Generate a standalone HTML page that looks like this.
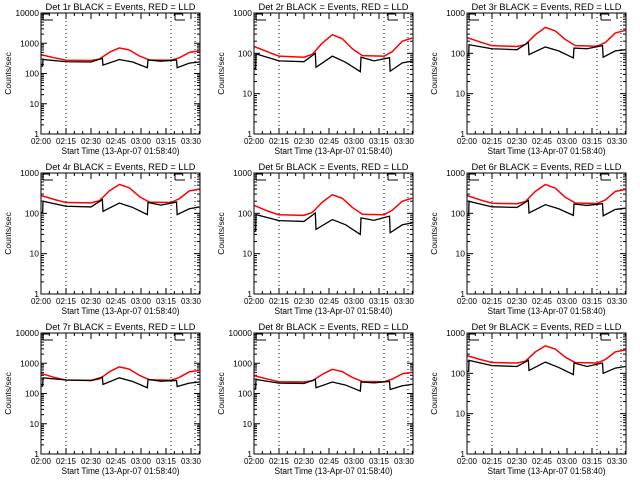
<!DOCTYPE html>
<html><head><meta charset="utf-8"><style>
html,body{margin:0;padding:0;background:#fff;}
svg{display:block;font-family:"Liberation Sans",sans-serif;}
</style></head><body>
<svg id="c" width="640" height="480"></svg>
<script>
const redTimes=[0,8,15,30,35,41,47,53,59,65,78,83,89,95];
const blackTimes=[0,1,1.2,15,30,36.8,37.2,47,55,63.8,64.2,72,81.3,81.7,89,95];
const detNames=["1r","2r","3r","4r","5r","6r","7r","8r","9r"];
const topDecade=[4,3,3,3,3,3,4,4,3];
const red1=[420,330,275,270,300,500,700,600,380,280,275,330,500,560];
const red2=[148,110,85,80,95,180,290,230,130,88,85,110,200,240];
const red3=[246,190,155,148,165,290,440,360,220,155,150,185,320,370];
const red4=[277,220,185,182,205,360,520,430,260,190,185,230,360,395];
const red5=[158,115,92,89,105,190,290,235,140,95,92,120,200,238];
const red6=[277,215,178,173,195,350,520,420,250,180,175,215,350,390];
const red7=[460,340,280,270,300,520,760,640,400,285,275,340,520,580];
const red8=[390,300,245,240,265,430,630,530,340,250,245,300,450,500];
const red9=[275,220,185,180,200,340,480,400,250,185,180,220,340,380];
const blk1=[175,175,290,245,240,320,190,290,240,155,280,255,280,155,220,240];
const blk2=[42,42,97,65,62,100,45,85,60,35,80,65,78,36,58,64];
const blk3=[88,88,163,130,123,187,93,144,115,77,135,130,155,80,115,123];
const blk4=[105,105,200,150,144,218,112,180,140,93,186,160,190,93,130,144];
const blk5=[36,36,93,66,63,102,40,70,52,30,77,67,85,33,52,58];
const blk6=[89,89,198,145,140,208,102,164,130,89,170,157,173,87,125,134];
const blk7=[175,175,330,280,270,350,200,330,250,155,290,255,270,170,220,240];
const blk8=[140,140,290,220,215,290,155,240,190,120,240,225,250,135,180,200];
const blk9=[112,112,210,155,148,210,118,190,140,93,180,148,180,100,135,148];
const xTickLabels=["02:00","02:15","02:30","02:45","03:00","03:15","03:30"];
const dottedTimes=[15,78,92.4];
const reds=[red1,red2,red3,red4,red5,red6,red7,red8,red9];
const blks=[blk1,blk2,blk3,blk4,blk5,blk6,blk7,blk8,blk9];

const NS="http://www.w3.org/2000/svg";
const svg=document.getElementById('c');
function mk(tag,attrs,parent){const e=document.createElementNS(NS,tag);for(const k in attrs)e.setAttribute(k,attrs[k]);(parent||svg).appendChild(e);return e;}

for(let p=0;p<9;p++){
  const col=p%3,row=Math.floor(p/3);
  const L=41+col*213,R=L+159,T=13+row*160,B=T+121;
  const td=topDecade[p];
  const xs=t=>L+t*159/95.4;
  const ys=v=>T+(td-Math.log10(v))*(B-T)/td;
  const g=mk('g',{});
  
  
  const title=mk('text',{x:(L+R)/2,y:T-3,'text-anchor':'middle','font-size':'9.5',textLength:'150',lengthAdjust:'spacingAndGlyphs'},g);
  title.textContent='Det '+detNames[p]+' BLACK = Events, RED = LLD';
  
  
  for(let d=0;d<=td;d++){
    const y=ys(Math.pow(10,d));
    mk('line',{x1:L,x2:L+6,y1:y,y2:y,stroke:'#000'},g);
    mk('line',{x1:R,x2:R-6,y1:y,y2:y,stroke:'#000'},g);
    const lb=mk('text',{x:L-2,y:y+3,'text-anchor':'end','font-size':'8.5'},g);
    lb.textContent=String(Math.pow(10,d));
    
    
    if(d<td){for(let m=2;m<10;m++){const ym=ys(m*Math.pow(10,d));
      mk('line',{x1:L,x2:L+3,y1:ym,y2:ym,stroke:'#000'},g);
      mk('line',{x1:R,x2:R-3,y1:ym,y2:ym,stroke:'#000'},g);}}
  }
  for(let m=0;m<=95;m+=5){
    const x=xs(m),len=(m%15===0)?6:3;
    mk('line',{x1:x,x2:x,y1:B,y2:B-len,stroke:'#000'},g);
    mk('line',{x1:x,x2:x,y1:T,y2:T+len,stroke:'#000'},g);
  }
  xTickLabels.forEach((s,i)=>{
    const lb=mk('text',{x:xs(i*15),y:B+10,'text-anchor':'middle','font-size':'8.5',textLength:'20',lengthAdjust:'spacingAndGlyphs'},g);
    lb.textContent=s;
    
    
  });
  const xt=mk('text',{x:(L+R)/2,y:B+20,'text-anchor':'middle','font-size':'9',textLength:'118',lengthAdjust:'spacingAndGlyphs'},g);
  xt.textContent='Start Time (13-Apr-07 01:58:40)';
  
  
  const yt=mk('text',{x:0,y:0,'text-anchor':'middle','font-size':'8.5',transform:`translate(${L-30},${(T+B)/2}) rotate(-90)`},g);
  yt.textContent='Counts/sec';
  
  
  dottedTimes.forEach(t=>{
    const dl=mk('line',{x1:xs(t),x2:xs(t),y1:T,y2:B,stroke:'#000','stroke-dasharray':'1,3'},g);
    
    
  });
  [2,134].forEach(dx=>{
    mk('path',{d:`M${L+dx} ${T} V${T+7} M${L+dx} ${T+1} H${L+dx+7} M${L+dx} ${T+7} H${L+dx+10}`,stroke:'#000',fill:'none'},g);
  });
  const rp=mk('polyline',{points:redTimes.map((t,i)=>xs(t)+','+ys(reds[p][i])).join(' '),fill:'none',stroke:'#ff0000','stroke-width':'1.5','stroke-linejoin':'round'},g);
  
  
  const bp=mk('polyline',{points:blackTimes.map((t,i)=>xs(t)+','+ys(blks[p][i])).join(' '),fill:'none',stroke:'#000','stroke-width':'1.3'},g);
  
  
  const fr=mk('rect',{x:L,y:T,width:R-L,height:B-T,fill:'none',stroke:'#000','stroke-width':'1'},g);
  
  
}
</script>
</body></html>
